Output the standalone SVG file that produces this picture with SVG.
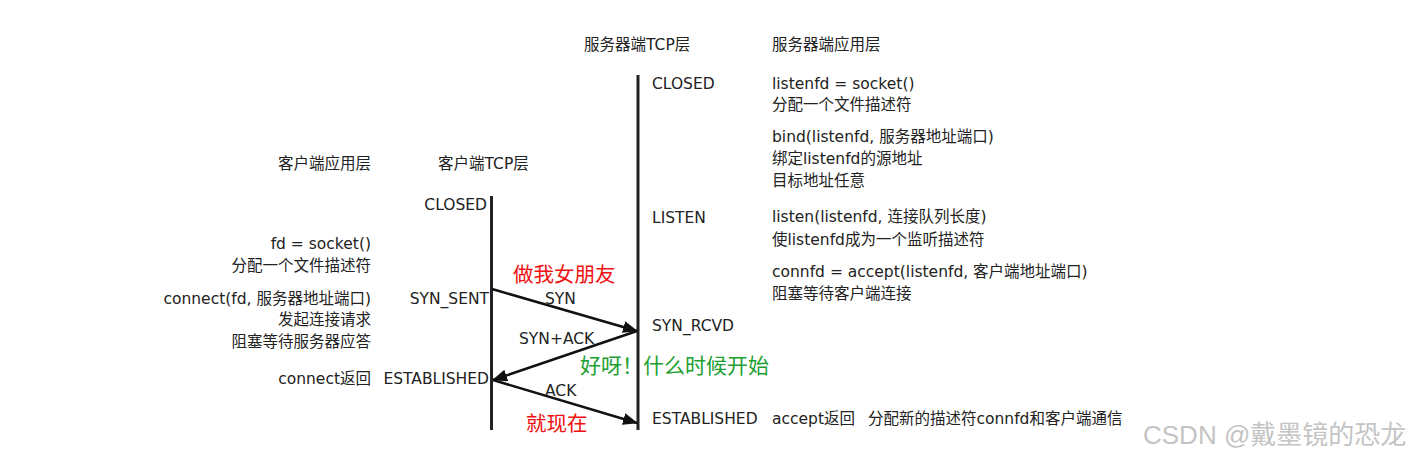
<svg xmlns="http://www.w3.org/2000/svg" width="1413" height="460" viewBox="0 0 1413 460">
<style>
.t{font-family:"DejaVu Sans","Noto Sans CJK SC",sans-serif;font-size:15.5px;fill:#222}
.e{text-anchor:end}
.ln{stroke:#222;stroke-width:3;fill:none}
.ar{stroke:#111;stroke-width:2.5;fill:none;marker-end:url(#ah)}
.red{font-family:"Noto Sans CJK SC",serif;font-size:20.5px;fill:#f01010}
.grn{font-family:"Noto Sans CJK SC",serif;font-size:21px;fill:#20a030}
.wm{font-family:"Liberation Sans","Noto Sans CJK SC",sans-serif;font-size:26px;fill:#c4c4c4}
</style>
<defs>
<marker id="ah" markerUnits="userSpaceOnUse" markerWidth="16" markerHeight="12" refX="14" refY="6" orient="auto">
<path d="M0,0 L15,6 L0,12 Z" fill="#111"/>
</marker>
</defs>
<rect width="1413" height="460" fill="#fff"/>

<g id="headers">
<text class="t" x="584" y="50">服务器端TCP层</text>
<text class="t" x="772" y="50">服务器端应用层</text>
<text class="t e" x="371" y="169">客户端应用层</text>
<text class="t" x="438" y="169">客户端TCP层</text>
</g>

<g id="client-timeline">
<line class="ln" x1="491.5" y1="196" x2="491.5" y2="430"/>
<text class="t e" x="487" y="210">CLOSED</text>
<text class="t e" x="489" y="304">SYN_SENT</text>
<text class="t e" x="489" y="384">ESTABLISHED</text>
</g>

<g id="server-timeline">
<line class="ln" x1="638" y1="75" x2="638" y2="430"/>
<text class="t" x="652" y="89">CLOSED</text>
<text class="t" x="652" y="223">LISTEN</text>
<text class="t" x="652" y="331">SYN_RCVD</text>
<text class="t" x="652" y="424">ESTABLISHED</text>
</g>

<g id="client-app">
<text class="t e" x="371" y="249">fd = socket()</text>
<text class="t e" x="371" y="271">分配一个文件描述符</text>
<text class="t e" x="371" y="304">connect(fd, 服务器地址端口)</text>
<text class="t e" x="371" y="325">发起连接请求</text>
<text class="t e" x="371" y="347">阻塞等待服务器应答</text>
<text class="t e" x="371" y="384">connect返回</text>
</g>

<g id="server-app">
<text class="t" x="772" y="89">listenfd = socket()</text>
<text class="t" x="772" y="110">分配一个文件描述符</text>
<text class="t" x="772" y="142">bind(listenfd, 服务器地址端口)</text>
<text class="t" x="772" y="164">绑定listenfd的源地址</text>
<text class="t" x="772" y="186">目标地址任意</text>
<text class="t" x="772" y="222">listen(listenfd, 连接队列长度)</text>
<text class="t" x="772" y="245">使listenfd成为一个监听描述符</text>
<text class="t" x="772" y="277">connfd = accept(listenfd, 客户端地址端口)</text>
<text class="t" x="772" y="299">阻塞等待客户端连接</text>
<text class="t" x="772" y="424">accept返回</text>
<text class="t" x="868" y="424">分配新的描述符connfd和客户端通信</text>
</g>

<g id="connectors">
<line class="ar" x1="492" y1="289" x2="637" y2="331"/>
<line class="ar" x1="637" y1="331" x2="493" y2="380"/>
<line class="ar" x1="493" y1="380" x2="637" y2="423"/>
<text class="t" x="545" y="304">SYN</text>
<text class="t" x="519" y="344">SYN+ACK</text>
<text class="t" x="545" y="396">ACK</text>
</g>

<g id="annotations">
<text class="red" x="513" y="282">做我女朋友</text>
<text class="grn" x="580" y="373">好呀！什么时候开始</text>
<text class="red" x="526" y="431">就现在</text>
</g>

<g id="watermark">
<text class="wm" x="1143" y="444">CSDN @戴墨镜的恐龙</text>
</g>
</svg>
